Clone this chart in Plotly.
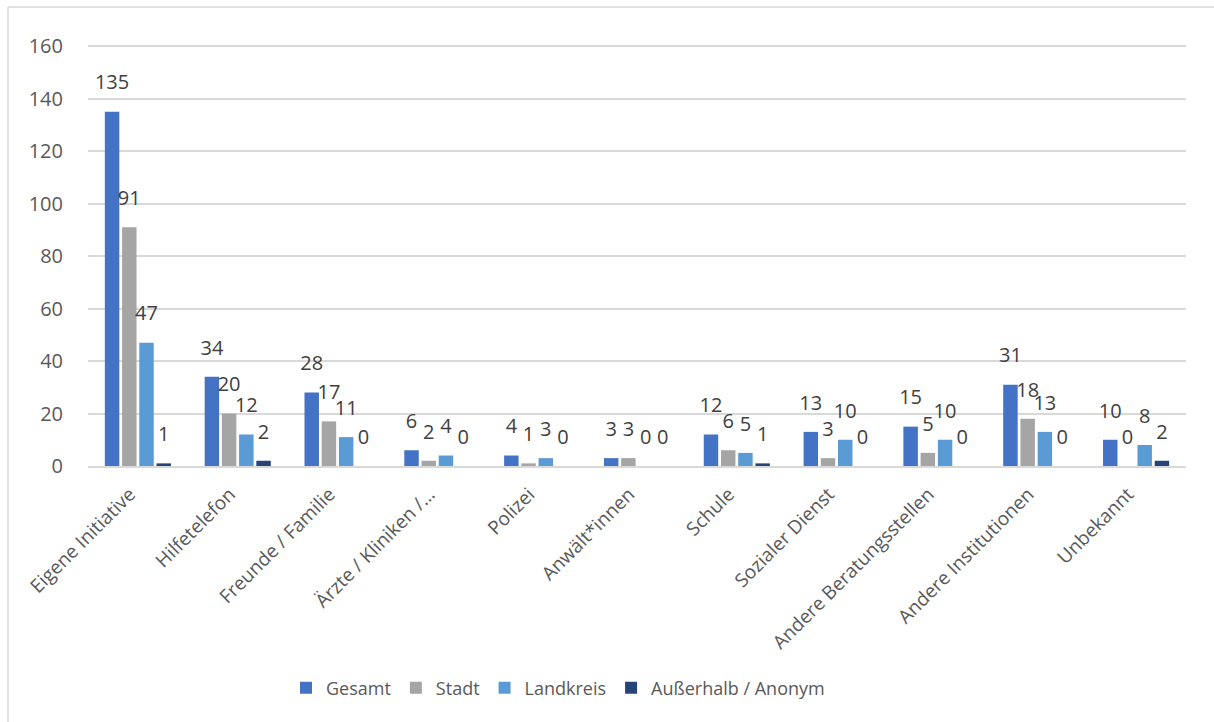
import plotly.graph_objects as go

categories = ["Eigene Initiative", "Hilfetelefon", "Freunde / Familie", "Ärzte / Kliniken /…",
              "Polizei", "Anwält*innen", "Schule", "Sozialer Dienst",
              "Andere Beratungsstellen", "Andere Institutionen", "Unbekannt"]
gesamt = [135, 34, 28, 6, 4, 3, 12, 13, 15, 31, 10]
stadt = [91, 20, 17, 2, 1, 3, 6, 3, 5, 18, 0]
landkreis = [47, 12, 11, 4, 3, 0, 5, 10, 10, 13, 8]
ausserhalb = [1, 2, 0, 0, 0, 0, 1, 0, 0, 0, 2]
y_ticks = [0, 20, 40, 60, 80, 100, 120, 140, 160]

series = [
    ("Gesamt", gesamt, "#4472C4"),
    ("Stadt", stadt, "#A5A5A5"),
    ("Landkreis", landkreis, "#5B9BD5"),
    ("Außerhalb / Anonym", ausserhalb, "#264478"),
]

FONT = "Open Sans"
L, R, T, B = 88, 1186, 45, 466
W, H = 1214, 722
pw, ph = R - L, B - T
BARGAP = 0.31

fig = go.Figure()
for i, (name, vals, color) in enumerate(series):
    fig.add_trace(go.Bar(
        x=categories, y=vals, name=name,
        marker=dict(color=color, line=dict(width=0)),
        offsetgroup=str(i), hoverinfo="skip",
    ))
for i, (name, vals, color) in enumerate(series):
    fig.add_trace(go.Scatter(
        x=categories, y=vals, name=name + " labels", showlegend=False,
        mode="markers+text", offsetgroup=str(i),
        marker=dict(size=26, opacity=0, color=color),
        text=[str(v) for v in vals], textposition="top center",
        textfont=dict(family=FONT, size=20, color="#404040"),
        cliponaxis=False, hoverinfo="skip",
    ))

fig.update_layout(
    width=W, height=H,
    paper_bgcolor="white", plot_bgcolor="white",
    margin=dict(l=L, r=W - R, t=T, b=H - B, autoexpand=False),
    barmode="group", bargap=BARGAP, bargroupgap=0.16,
    scattermode="group", scattergap=BARGAP,
    font=dict(family=FONT, size=18, color="#595959"),
    showlegend=True,
    legend=dict(orientation="h", x=(558 - L) / pw, xanchor="center",
                y=(B - 688) / ph, yanchor="middle",
                font=dict(family=FONT, size=18, color="#595959"),
                itemwidth=30, traceorder="normal"),
    xaxis=dict(tickangle=-45, showline=True, linecolor="#D9D9D9", linewidth=1.5,
               ticks="", ticklabelstandoff=8, ticklabelshift=-8,
               tickfont=dict(family=FONT, size=19, color="#595959")),
    yaxis=dict(range=[0, 160.4], tickvals=y_ticks, showgrid=True, gridcolor="#D9D9D9",
               gridwidth=1.5, zeroline=False, showline=False, ticks="",
               tickfont=dict(family=FONT, size=20, color="#595959"), ticklabelstandoff=24),
    shapes=[
        dict(type="line", xref="paper", yref="paper", x0=(8 - L) / pw, x1=1.2,
             y0=(B - 7) / ph, y1=(B - 7) / ph, line=dict(color="#D9D9D9", width=1.5)),
        dict(type="line", xref="paper", yref="paper", x0=(8 - L) / pw, x1=(8 - L) / pw,
             y0=(B - 7) / ph, y1=-1.0, line=dict(color="#D9D9D9", width=1.5)),
    ],
)

fig.write_html("out.html", config={"displayModeBar": False},
               post_script="document.body.style.margin='0';")
